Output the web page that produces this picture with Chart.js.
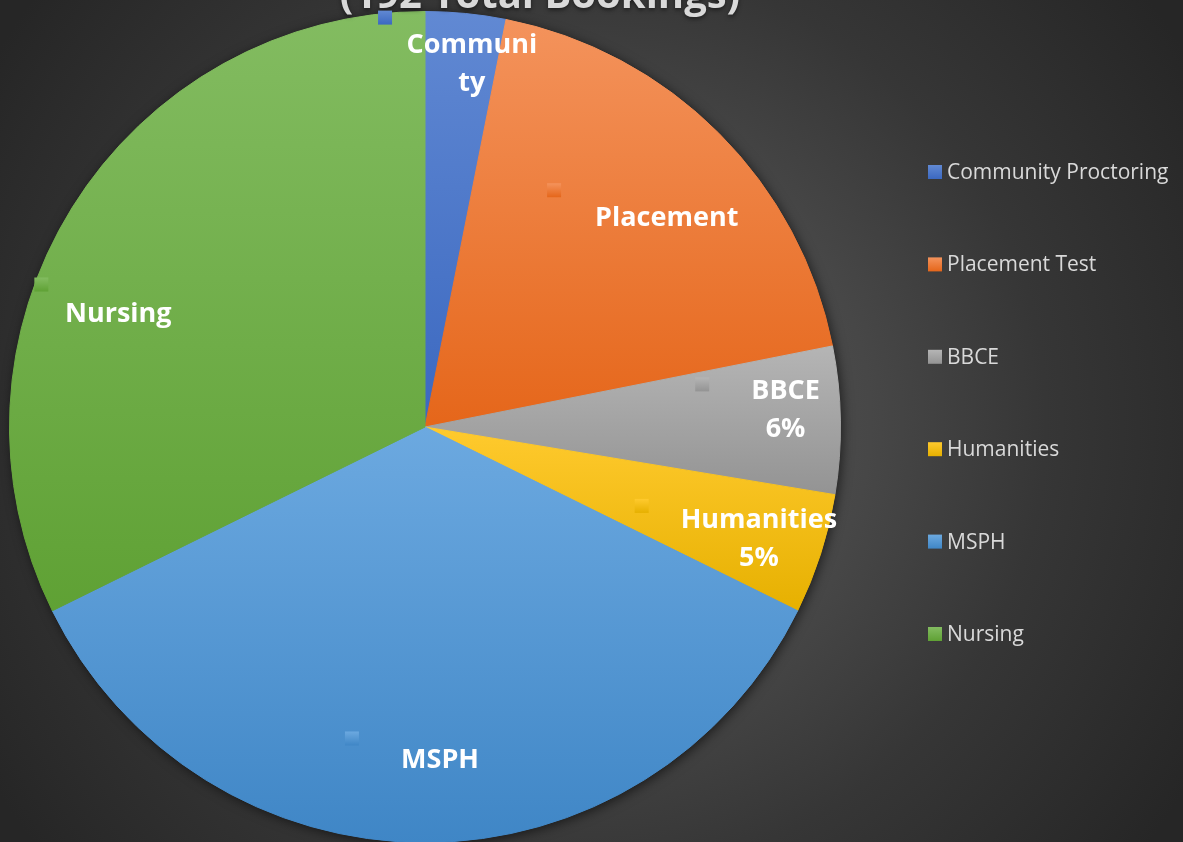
<!DOCTYPE html>
<html>
<head>
<meta charset="utf-8">
<title>Bookings</title>
<script src="https://cdn.jsdelivr.net/npm/chart.js@4.4.1/dist/chart.umd.min.js"></script>
<style>
  html, body { margin: 0; padding: 0; overflow: hidden; background: #2c2c2c; }
  #wrap { width: 1183px; height: 850px; position: relative; }
</style>
</head>
<body>
<div id="wrap"><canvas id="chart"></canvas></div>
<script>
const categories = ['Community Proctoring', 'Placement Test', 'BBCE', 'Humanities', 'MSPH', 'Nursing'];
const bookings = [6, 36, 11, 9, 68, 62];
const sliceLabels = [['Communi', 'ty'], ['Placement'], ['BBCE', '6%'], ['Humanities', '5%'], ['MSPH'], ['Nursing']];
const titleText = '(192 Total Bookings)';

const lightColors = ['#6189d3', '#f4935c', '#b5b5b5', '#ffca2e', '#6ca9e0', '#83bc61'];
const darkColors = ['#3b68c0', '#e5661a', '#939393', '#e6b000', '#3f86c6', '#5fa134'];
const baseColors = ['#4472c4', '#ed7d31', '#a5a5a5', '#ffc000', '#5b9bd5', '#70ad47'];

// where excel put the labels: degrees off the slice middle, share of radius
const labelSpots = [[1.7, 0.885], [3.9, 0.772], [-2.1, 0.869], [0.4, 0.846], [-2.6, 0.799], [-11.4, 0.788]];
const keySpots = [[-11.2, 0.99], [-16.4, 0.649], [-7.8, 0.675], [2.2, 0.555], [13.2, 0.77], [-11.5, 0.985]];

const FONT = '"Open Sans", "Liberation Sans", sans-serif';

function sliceGradient(ctx) {
  const chart = ctx.chart;
  const i = ctx.dataIndex;
  const area = chart.chartArea;
  if (!area) return baseColors[i];
  const cx = (area.left + area.right) / 2;
  const cy = (area.top + area.bottom) / 2;
  const r = Math.min(area.right - area.left, area.bottom - area.top) / 2;
  const total = bookings.reduce((a, b) => a + b, 0);
  let before = 0;
  for (let k = 0; k < i; k++) before += bookings[k];
  const a0 = -Math.PI / 2 + before / total * Math.PI * 2;
  const a1 = a0 + bookings[i] / total * Math.PI * 2;
  let ys = [cy, cy + Math.sin(a0) * r, cy + Math.sin(a1) * r];
  for (const t of [-Math.PI / 2, Math.PI / 2, Math.PI * 1.5]) {
    if (t > a0 && t < a1) ys.push(cy + Math.sin(t) * r);
  }
  const top = Math.min(...ys), bottom = Math.max(...ys);
  const g = chart.ctx.createLinearGradient(0, top, 0, bottom + 1);
  g.addColorStop(0, lightColors[i]);
  g.addColorStop(1, darkColors[i]);
  return g;
}

function keyGradient(c, i, y, size) {
  const g = c.createLinearGradient(0, y - size / 2, 0, y + size / 2);
  g.addColorStop(0, lightColors[i]);
  g.addColorStop(1, darkColors[i]);
  return g;
}

const backdrop = {
  id: 'backdrop',
  beforeDraw(chart) {
    const c = chart.ctx;
    const w = chart.width, h = chart.height;
    const g = c.createRadialGradient(591, 421, 0, 591, 421, 700);
    g.addColorStop(0, '#5a5a5a');
    g.addColorStop(0.4, '#474747');
    g.addColorStop(0.65, '#363636');
    g.addColorStop(1, '#262626');
    c.save();
    c.fillStyle = g;
    c.fillRect(0, 0, w, h);
    c.restore();
  },
  beforeDatasetsDraw(chart) {
    const arc = chart.getDatasetMeta(0).data[0];
    if (!arc) return;
    const c = chart.ctx;
    c.save();
    c.shadowColor = 'rgba(0,0,0,0.6)';
    c.shadowBlur = 12;
    c.shadowOffsetX = 2;
    c.shadowOffsetY = 2;
    c.fillStyle = '#333';
    c.beginPath();
    c.arc(arc.x, arc.y, arc.outerRadius, 0, Math.PI * 2);
    c.fill();
    c.restore();
  }
};

const extras = {
  id: 'extras',
  afterDatasetsDraw(chart) {
    const c = chart.ctx;
    const arcs = chart.getDatasetMeta(0).data;
    c.save();

    // title, pushed up past the top edge like in the original
    c.font = 'bold 40px ' + FONT;
    c.fillStyle = '#d9d9d9';
    c.textAlign = 'center';
    c.textBaseline = 'alphabetic';
    c.shadowColor = 'rgba(0,0,0,0.5)';
    c.shadowBlur = 4;
    c.shadowOffsetY = 2;
    c.fillText(titleText, 540, 8);
    c.shadowColor = 'transparent';

    arcs.forEach((arc, i) => {
      const mid = (arc.startAngle + arc.endAngle) / 2;
      const R = arc.outerRadius;

      // little legend key next to each label
      const ka = mid + keySpots[i][0] * Math.PI / 180;
      const kx = arc.x + Math.cos(ka) * R * keySpots[i][1];
      const ky = arc.y + Math.sin(ka) * R * keySpots[i][1];
      const size = 14;
      c.fillStyle = keyGradient(c, i, ky, size);
      c.fillRect(kx - size / 2, ky - size / 2, size, size);

      // label text
      const la = mid + labelSpots[i][0] * Math.PI / 180;
      const lx = arc.x + Math.cos(la) * R * labelSpots[i][1];
      const ly = arc.y + Math.sin(la) * R * labelSpots[i][1];
      const lines = sliceLabels[i];
      const lh = 38;
      c.font = 'bold 27px ' + FONT;
      c.fillStyle = '#ffffff';
      c.textAlign = 'center';
      c.textBaseline = 'middle';
      lines.forEach((t, j) => {
        c.fillText(t, lx, ly + 2 + (j - (lines.length - 1) / 2) * lh);
      });
    });

    // legend on the right
    c.font = '21px ' + FONT;
    c.textAlign = 'left';
    c.textBaseline = 'middle';
    categories.forEach((name, i) => {
      const y = 172 + i * 92.4;
      c.fillStyle = keyGradient(c, i, y, 14);
      c.fillRect(928, y - 7, 14, 14);
      c.fillStyle = '#d9d9d9';
      c.fillText(name, 947, y + 1);
    });
    c.restore();
  }
};

new Chart(document.getElementById('chart'), {
  type: 'pie',
  data: {
    labels: categories,
    datasets: [{
      data: bookings,
      backgroundColor: sliceGradient,
      borderColor: sliceGradient,
      borderWidth: 1,
    }],
  },
  options: {
    responsive: true,
    maintainAspectRatio: false,
    animation: false,
    layout: {
      padding: { left: 9, right: 342, top: 11, bottom: 7 },
    },
    plugins: {
      legend: { display: false },
      title: { display: false },
      tooltip: { enabled: false },
    },
  },
  plugins: [backdrop, extras],
});
</script>
</body>
</html>
